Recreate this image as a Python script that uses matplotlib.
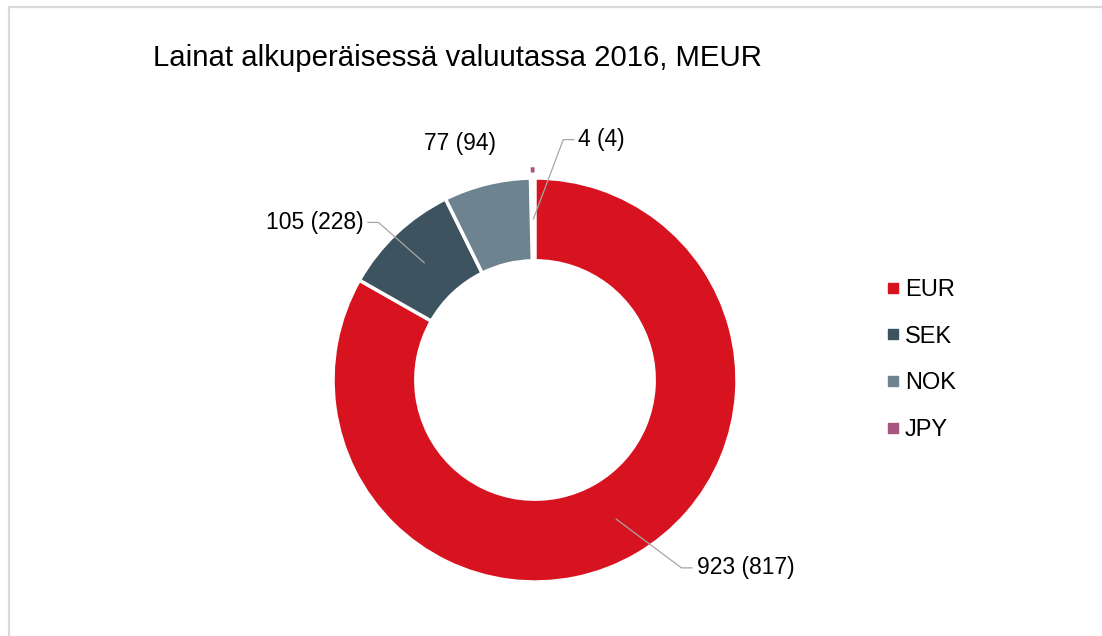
import numpy as np
import matplotlib.pyplot as plt
from matplotlib.lines import Line2D

plt.rcParams['font.family'] = ['Liberation Sans', 'DejaVu Sans']

# data
currencies = ['EUR', 'SEK', 'NOK', 'JPY']
values_2016 = [923, 105, 77, 4]
values_2015 = [817, 228, 94, 4]
colors = ['#D7131F', '#3D5460', '#6E8390', '#A6567F']
title = 'Lainat alkuperäisessä valuutassa 2016, MEUR'

W, H = 1102, 636
fig = plt.figure(figsize=(W / 100, H / 100), dpi=100)

# pie centre and radius in pixels
cx, cy, R = 535, 380, 202
half_w, half_h = 400, 256
ax = fig.add_axes([(cx - half_w) / W, (H - cy - half_h) / H, 2 * half_w / W, 2 * half_h / H])

wedges, _ = ax.pie(values_2016, colors=colors, startangle=90, counterclock=False,
                   radius=1, wedgeprops=dict(width=0.41, edgecolor='white', linewidth=2.5))
ax.set_aspect('auto')
ax.set_xlim(-half_w / R, half_w / R)
ax.set_ylim(-half_h / R, half_h / R)
ax.axis('off')

# the tiny JPY slice is drawn as a small tick just outside the ring
wedges[3].set_radius(1.055)
wedges[3].set_width(0.03)
wedges[3].set_linewidth(0.6)

# label placement (relative to pie centre, in radius units) and side
label_pos = [(0.80, -0.93, 'left'), (-0.85, 0.78, 'right'),
             (-0.37, 1.17, 'center'), (0.215, 1.19, 'left')]
leader = [True, True, False, True]

for w, v, v0, (lx, ly, ha), lead in zip(wedges, values_2016, values_2015, label_pos, leader):
    ax.text(lx, ly, f'{v} ({v0})', ha=ha, va='center', fontsize=16.5, color='#000000')
    if lead:
        mid = np.deg2rad((w.theta1 + w.theta2) / 2)
        r_mid = 1 - 0.41 / 2
        px, py = r_mid * np.cos(mid), r_mid * np.sin(mid)
        sgn = 1 if ha == 'left' else -1
        elbow = lx - sgn * 0.075
        end = lx - sgn * 0.02
        ax.plot([px, elbow, end], [py, ly, ly], color='#a6a6a6', lw=0.9,
                solid_capstyle='butt')

fig.text(153 / W, 1 - 58 / H, title, fontsize=21.2, ha='left', va='center', color='#000000')

handles = [Line2D([], [], marker='s', linestyle='', color=c, markersize=7) for c in colors]
fig.legend(handles, currencies, loc='center left', bbox_to_anchor=(887 / W, 1 - 360 / H),
           frameon=False, fontsize=17, handlelength=0.5, handletextpad=0.25,
           labelspacing=1.04, borderpad=0, borderaxespad=0)

# light grey frame at top and left edges
fig.add_artist(Line2D([8.5 / W, 1], [1 - 6.5 / H, 1 - 6.5 / H], color='#d9d9d9', lw=1.6,
                      transform=fig.transFigure))
fig.add_artist(Line2D([8.5 / W, 8.5 / W], [0, 1 - 6.5 / H], color='#d9d9d9', lw=1.6,
                      transform=fig.transFigure))

fig.savefig('out.png', dpi=100, facecolor='white')
